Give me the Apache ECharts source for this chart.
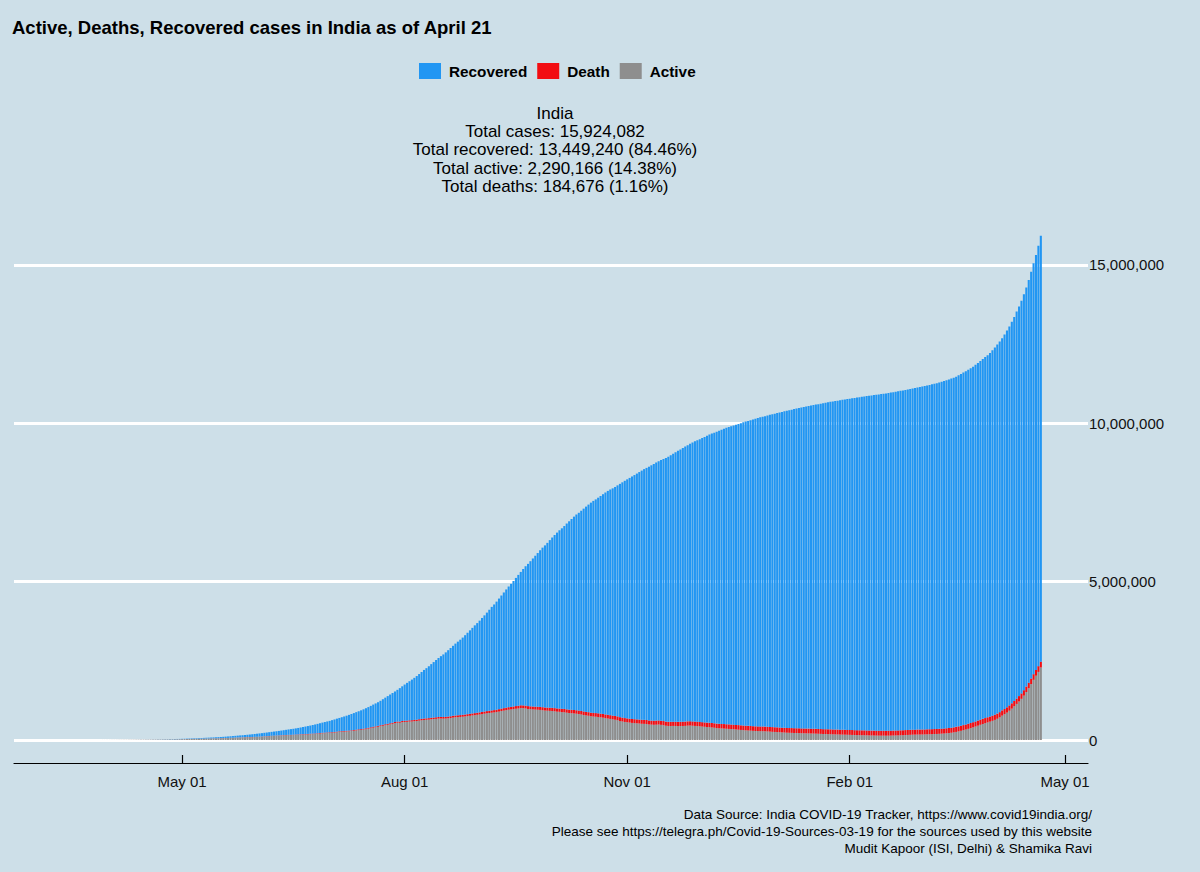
<!DOCTYPE html>
<html>
<head>
<meta charset="utf-8">
<title>Active, Deaths, Recovered cases in India</title>
<script src="https://cdn.jsdelivr.net/npm/echarts@6/dist/echarts.min.js"></script>
<style>
  html, body { margin: 0; padding: 0; background: #cddfe8; }
  #chart { width: 1200px; height: 872px; }
</style>
</head>
<body>
<div id="chart"></div>
<script>
// ---------------- DATA (daily, thousands of cases) ----------------
const startDate = '2020-03-14';   // first bar; one bar per day up to 2021-04-21
const axisFirstDay = '2020-02-22'; // first day shown on the date axis
const axisLastDay = '2021-05-10';  // last day shown on the date axis

const activeK = [
  0.09,0.10,0.10,0.12,0.15,0.18,0.22,0.30,0.36,0.45,0.51,0.57,0.64,0.78,0.89,1.10,1.22,1.45,
  1.83,2.28,2.79,3.21,3.84,4.24,4.73,5.22,5.88,6.60,7.26,7.87,8.95,9.73,10.45,11.17,11.86,12.80,13.86,14.76,15.47,16.31,17.26,18.17,19.27,20.36,21.17,22.49,23.51,24.64,
  26.1,27.5,29.3,32.0,33.5,35.8,37.6,39.8,41.3,44.1,46.0,47.5,49.3,51.4,52.8,53.5,55.9,57.9,60.9,63.3,66.1,69.3,73.1,76.8,80.7,82.2,85.9,89.6,88.1,90.0,93.3,
  97.3,101.1,106.7,111.8,115.5,120.4,126.5,129.9,133.7,138.1,142.6,146.4,150.0,153.7,153.2,154.6,160.0,163.2,169.1,170.7,173.6,178.2,182.7,186.6,190.1,197.8,203.7,210.9,215.8,220.2,
  226,229,235,245,253,260,265,270,276,283,292,303,313,320,331,343,359,374,390,402,419,436,450,466,480,495,511,534,546,544,564,
  570,575,582,585,593,600,612,623,633,638,643,654,661,668,676,678,673,677,686,694,708,716,722,728,734,744,754,764,774,784,795,
  805,818,830,842,852,862,870,882,897,913,928,942,956,965,975,987,995,1010,1005,995,980,972,965,960,955,950,940,930,925,920,
  915,905,895,890,880,875,862,852,845,838,830,820,805,790,775,765,750,740,735,727,715,705,690,678,665,650,640,625,600,585,570,
  560,550,540,533,527,520,512,510,505,490,485,480,483,488,478,468,450,443,442,445,443,440,440,443,446,453,456,450,445,440,
  432,425,417,410,404,396,387,376,370,365,360,355,350,345,340,333,325,318,312,305,300,295,290,285,282,280,278,275,270,265,258,
  254,250,245,240,235,230,227,225,222,220,218,215,212,210,208,206,203,200,197,193,190,188,185,183,180,177,175,172,170,168,165,
  163,160,157,155,153,151,149,147,145,143,141,139,138,137,137,136,137,139,141,143,146,149,152,156,160,164,168,170,
  172,173,174,176,179,182,185,188,191,195,200,205,212,220,228,240,255,272,290,310,330,352,375,400,425,452,480,505,530,555,580,
  605,635,670,715,770,815,865,925,990,1065,1140,1215,1300,1400,1515,1635,1765,1900,2030,2150,2290.166
];

const deathK = [
  0,0,0,0,0,0,0,0.01,0.01,0.01,0.01,0.01,0.02,0.02,0.02,0.03,0.03,0.04,
  0.06,0.07,0.08,0.11,0.12,0.15,0.17,0.20,0.23,0.25,0.29,0.33,0.35,0.40,0.42,0.45,0.49,0.52,0.56,0.59,0.65,0.68,0.72,0.78,0.83,0.88,0.94,1.01,1.08,1.15,
  1.22,1.32,1.39,1.57,1.69,1.79,1.89,1.99,2.11,2.21,2.29,2.42,2.55,2.65,2.75,2.87,3.03,3.16,3.30,3.44,3.58,3.73,3.87,4.02,4.17,4.34,4.53,4.71,4.97,5.18,5.39,
  5.6,5.8,6.1,6.4,6.6,6.9,7.2,7.5,7.7,8.1,8.5,8.9,9.2,9.5,9.9,11.9,12.3,12.6,13.0,13.3,13.7,14.0,14.5,14.9,15.3,15.7,16.1,16.5,16.9,17.4,
  17.8,18.2,18.7,19.3,19.7,20.2,20.7,21.1,21.6,22.1,22.7,23.2,23.7,24.3,24.9,25.6,26.3,26.8,27.5,28.1,28.8,29.9,30.6,31.4,32.1,32.8,33.4,34.2,35.0,35.8,36.5,
  37.4,38.2,39.0,40.7,41.6,42.5,43.5,44.4,45.3,46.1,47.1,48.0,49.0,50.0,50.9,51.8,52.9,53.9,55.0,56.0,56.7,57.5,58.4,59.4,60.5,61.5,62.5,63.5,64.5,65.4,66.3,
  67.4,68.5,69.6,70.6,71.6,72.8,73.9,75.1,76.3,77.5,78.6,79.7,80.8,81.9,83.2,84.4,85.6,86.8,88.0,89.1,90.0,91.2,92.3,93.4,94.5,95.6,96.4,97.5,98.7,99.8,
  100.8,101.8,102.7,103.6,104.6,105.6,106.5,107.4,108.3,109.2,110.1,110.6,111.3,112.0,112.7,113.4,114.0,114.6,115.2,115.9,116.6,117.3,117.9,118.5,119.0,119.5,120.0,120.5,121.1,121.6,122.1,
  122.6,123.1,123.6,124.3,124.8,125.6,126.1,126.6,127.1,127.6,128.1,128.7,129.2,129.7,130.1,130.6,131.1,131.6,132.2,132.7,133.2,133.7,134.2,134.7,135.2,135.8,136.2,136.7,137.1,137.6,
  138.1,138.6,139.2,139.7,140.2,140.6,141.0,141.4,141.8,142.2,142.7,143.0,143.4,143.7,144.1,144.5,144.8,145.2,145.5,145.8,146.1,146.4,146.8,147.1,147.4,147.7,148.0,148.2,148.5,148.8,149.0,
  149.2,149.5,149.7,149.9,150.1,150.4,150.6,150.8,151.0,151.2,151.4,151.6,151.8,152.0,152.1,152.3,152.4,152.6,152.7,152.9,153.0,153.2,153.3,153.4,153.6,153.7,153.8,154.0,154.1,154.2,154.4,
  154.5,154.6,154.7,154.8,154.9,155.0,155.1,155.2,155.3,155.4,155.5,155.6,155.7,155.8,155.9,156.0,156.1,156.2,156.3,156.4,156.5,156.6,156.7,156.8,156.9,157.0,157.1,157.3,
  157.4,157.5,157.6,157.8,157.9,158.1,158.2,158.3,158.5,158.6,158.7,158.9,159.0,159.2,159.4,159.6,159.8,160.0,160.2,160.4,160.6,160.8,161.0,161.3,161.6,161.9,162.1,162.3,162.5,162.7,162.9,
  163.4,164.1,164.6,165.1,165.6,166.2,166.9,167.7,168.5,169.3,170.2,171.1,172.1,173.2,174.3,175.6,177.2,178.8,180.5,182.6,184.676
];

const recoveredK = [
  0.01,0.01,0.01,0.01,0.02,0.02,0.02,0.02,0.02,0.03,0.04,0.05,0.06,0.08,0.09,0.11,0.13,0.15,
  0.17,0.19,0.21,0.27,0.33,0.40,0.45,0.50,0.62,0.75,0.90,1.00,1.15,1.36,1.50,1.77,2.00,2.40,2.85,3.25,3.96,4.38,5.06,5.50,6.18,6.65,7.34,7.86,8.46,9.07,
  10.0,10.9,11.8,12.8,14.2,15.3,16.8,17.9,19.4,20.9,22.5,24.4,26.2,27.9,30.3,34.2,36.8,39.2,42.3,45.3,48.5,51.8,54.4,57.7,60.5,64.3,67.7,71.1,80.4,86.9,91.8,
  95.8,100.3,104.1,108.5,114.1,119.3,123.8,129.2,134.7,141.0,147.2,154.3,162.4,169.8,180.0,187.6,195.0,204.7,212.9,227.0,238.0,248.0,258.7,271.6,285.0,295.9,309.8,321.8,334.8,347.9,
  360,380,395,410,424,440,457,477,496,516,535,553,571,593,613,635,654,677,701,725,745,772,807,840,874,908,940,964,1003,1058,1095,
  1144,1191,1235,1282,1328,1377,1427,1481,1534,1584,1639,1694,1751,1808,1863,1918,1976,2036,2095,2155,2209,2270,2325,2380,2440,2504,2570,2635,2702,2771,2830,
  2897,2967,3036,3110,3189,3269,3336,3413,3493,3572,3652,3732,3810,3883,3962,4047,4133,4211,4307,4403,4492,4583,4675,4765,4854,4946,5038,5118,5201,5292,
  5378,5466,5551,5629,5700,5776,5867,5947,6026,6106,6180,6244,6323,6404,6482,6555,6631,6695,6747,6808,6874,6939,7007,7069,7126,7177,7230,7295,7367,7430,7493,
  7548,7603,7658,7709,7761,7815,7869,7917,7960,8012,8061,8109,8152,8188,8237,8276,8323,8371,8417,8458,8507,8556,8601,8644,8686,8721,8760,8805,8849,8885,
  8929,8971,9014,9057,9099,9140,9175,9218,9255,9290,9324,9359,9391,9417,9448,9479,9509,9542,9574,9605,9629,9658,9686,9715,9741,9760,9782,9801,9827,9853,9880,
  9902,9923,9946,9968,9992,10015,10036,10056,10078,10098,10117,10135,10153,10171,10189,10206,10223,10239,10256,10274,10291,10308,10325,10341,10356,10372,10386,10402,10417,10431,10447,
  10460,10474,10489,10503,10517,10531,10544,10557,10569,10582,10594,10607,10619,10631,10641,10653,10664,10675,10686,10698,10709,10719,10728,10738,10749,10760,10771,10785,
  10799,10814,10828,10843,10857,10873,10888,10902,10916,10933,10951,10970,10988,11006,11024,11039,11059,11082,11104,11131,11154,11179,11203,11226,11259,11292,11327,11364,11403,11431,11479,
  11535,11593,11651,11707,11748,11821,11897,11968,12048,12125,12218,12303,12402,12500,12603,12716,12846,12979,13105,13276,13449.240
];

const seriesNames = ['Recovered', 'Death', 'Active'];
const yTickValues = [0, 5000000, 10000000, 15000000];
const xTickDates = ['2020-05-01', '2020-08-01', '2020-11-01', '2021-02-01', '2021-05-01'];
const monthNames = ['Jan','Feb','Mar','Apr','May','Jun','Jul','Aug','Sep','Oct','Nov','Dec'];

const titleText = 'Active, Deaths, Recovered cases in India as of April 21';
const summaryLines = [
  'India',
  'Total cases: 15,924,082',
  'Total recovered: 13,449,240 (84.46%)',
  'Total active: 2,290,166 (14.38%)',
  'Total deaths: 184,676 (1.16%)'
];
const captionLines = [
  'Data Source: India COVID-19 Tracker, https://www.covid19india.org/',
  'Please see https://telegra.ph/Covid-19-Sources-03-19 for the sources used by this website',
  'Mudit Kapoor (ISI, Delhi) & Shamika Ravi'
];

// ---------------- BUILD ----------------
const DAY = 86400000;
function toMs(s) { const p = s.split('-').map(Number); return Date.UTC(p[0], p[1] - 1, p[2]); }
function toIso(ms) { return new Date(ms).toISOString().slice(0, 10); }

// one category per calendar day along the axis
const categories = [];
for (let t = toMs(axisFirstDay); t <= toMs(axisLastDay); t += DAY) categories.push(toIso(t));
const firstIdx = categories.indexOf(startDate);
const alignToAxis = (arr) => categories.map((_, k) => {
  const i = k - firstIdx;
  return (i >= 0 && i < arr.length) ? arr[i] * 1000 : null;
});
const isTick = (idx, val) => xTickDates.indexOf(val) >= 0;

const FONT = '"Liberation Sans", Arial, Helvetica, sans-serif';
const chart = echarts.init(document.getElementById('chart'), null, { renderer: 'svg' });

chart.setOption({
  animation: false,
  backgroundColor: '#cddfe8',
  textStyle: { fontFamily: FONT },
  title: [
    { text: titleText, left: 12, top: 18, padding: 0,
      textStyle: { fontFamily: FONT, fontSize: 18.5, fontWeight: 'bold', color: '#000' } },
    { text: summaryLines.join('\n'), left: 555, top: 104, padding: 0, textAlign: 'center',
      textStyle: { fontFamily: FONT, fontSize: 17, fontWeight: 'normal', color: '#000', lineHeight: 18.3 } },
    { text: captionLines.join('\n'), left: 1092, top: 806, padding: 0, textAlign: 'right',
      textStyle: { fontFamily: FONT, fontSize: 13.5, fontWeight: 'normal', color: '#000', lineHeight: 17 } }
  ],
  legend: {
    data: seriesNames,
    left: 419, top: 63, padding: 0,
    icon: 'rect', itemWidth: 22, itemHeight: 16, itemGap: 10,
    selectedMode: false,
    textStyle: { fontFamily: FONT, fontSize: 15.3, fontWeight: 'bold', color: '#000', padding: [0, 0, 0, 3] }
  },
  grid: { left: 14, right: 112, top: 210.5, bottom: 132, containLabel: false },
  xAxis: {
    type: 'category',
    data: categories,
    boundaryGap: true,
    offset: 23,
    axisLine: { show: true, onZero: false, lineStyle: { color: '#000', width: 1.2 } },
    axisTick: { show: true, inside: true, length: 8, alignWithLabel: true, interval: isTick,
      lineStyle: { color: '#000', width: 1.2 } },
    axisLabel: {
      interval: isTick,
      margin: 11,
      fontFamily: FONT, fontSize: 15, color: '#111',
      formatter: (v) => { const p = v.split('-'); return monthNames[Number(p[1]) - 1] + ' ' + p[2]; }
    },
    splitLine: { show: false }
  },
  yAxis: {
    type: 'value',
    position: 'right',
    min: 0, max: 16720000, interval: 5000000,
    axisLine: { show: false }, axisTick: { show: false },
    axisLabel: {
      margin: 1, fontFamily: FONT, fontSize: 15, color: '#111', showMaxLabel: false,
      formatter: (v) => yTickValues.indexOf(v) >= 0 ? v.toLocaleString('en-US') : ''
    },
    splitLine: { show: true, lineStyle: { color: ['#ffffff', '#ffffff', '#ffffff', '#ffffff', 'rgba(0,0,0,0)'], width: 3 } }
  },
  series: [
    { name: 'Active', type: 'bar', stack: 'cases', data: alignToAxis(activeK), barCategoryGap: '14%',
      itemStyle: { color: '#8e8e8e' } },
    { name: 'Death', type: 'bar', stack: 'cases', data: alignToAxis(deathK), barCategoryGap: '14%',
      itemStyle: { color: '#f20d12' } },
    { name: 'Recovered', type: 'bar', stack: 'cases', data: alignToAxis(recoveredK), barCategoryGap: '14%',
      itemStyle: { color: '#2196f3' } }
  ]
});
</script>
</body>
</html>
